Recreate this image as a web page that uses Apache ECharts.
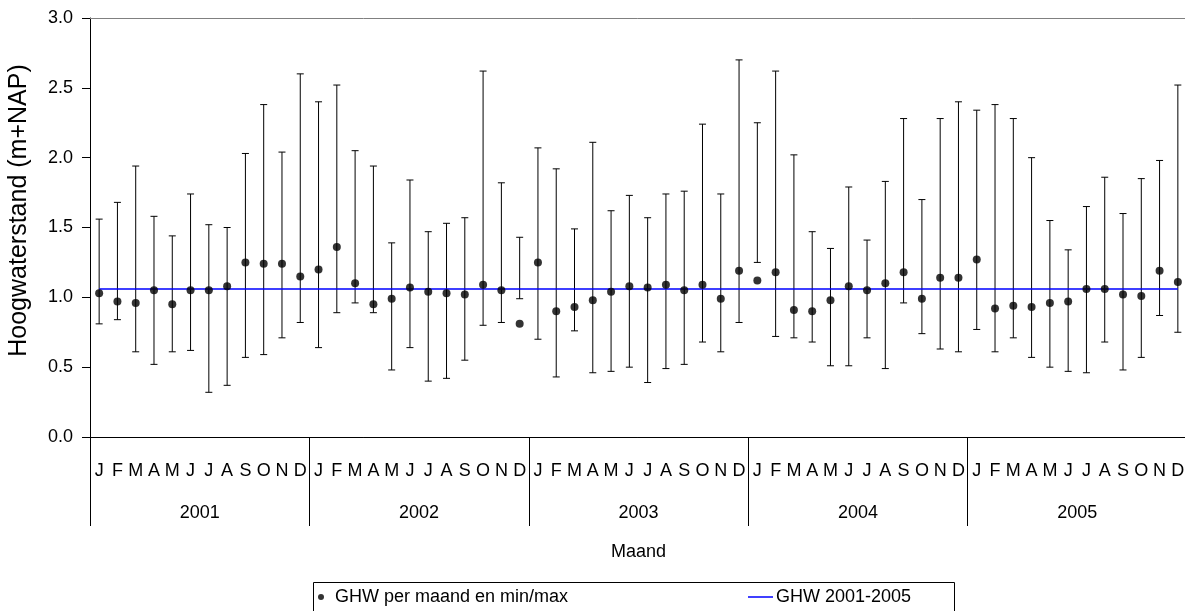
<!DOCTYPE html>
<html>
<head>
<meta charset="utf-8">
<script src="https://cdn.jsdelivr.net/npm/echarts@6/dist/echarts.min.js"></script>
<style>
    html, body { margin: 0; padding: 0; background: #fff; }
    #chart { width: 1185px; height: 611px; }
</style>
</head>
<body>
<div id="chart"></div>
<script>
// maandletters en jaren op de x-as
const months = ["J", "F", "M", "A", "M", "J", "J", "A", "S", "O", "N", "D"]
const years = ["2001", "2002", "2003", "2004", "2005"]

// gemiddeld hoogwater per maand (m+NAP)
const ghwMonth = [
    1.03, 0.97, 0.96, 1.05, 0.95, 1.05, 1.05, 1.08, 1.25, 1.24, 1.24, 1.15,
    1.20, 1.36, 1.10, 0.95, 0.99, 1.07, 1.04, 1.03, 1.02, 1.09, 1.05, 0.81,
    1.25, 0.90, 0.93, 0.98, 1.04, 1.08, 1.07, 1.09, 1.05, 1.09, 0.99, 1.19,
    1.12, 1.18, 0.91, 0.90, 0.98, 1.08, 1.05, 1.10, 1.18, 0.99, 1.14, 1.14,
    1.27, 0.92, 0.94, 0.93, 0.96, 0.97, 1.06, 1.06, 1.02, 1.01, 1.19, 1.11,
]

// hoogste hoogwater per maand
const ghwMax = [
    1.56, 1.68, 1.94, 1.58, 1.44, 1.74, 1.52, 1.50, 2.03, 2.38, 2.04, 2.60,
    2.40, 2.52, 2.05, 1.94, 1.39, 1.84, 1.47, 1.53, 1.57, 2.62, 1.82, 1.43,
    2.07, 1.92, 1.49, 2.11, 1.62, 1.73, 1.57, 1.74, 1.76, 2.24, 1.74, 2.70,
    2.25, 2.62, 2.02, 1.47, 1.35, 1.79, 1.41, 1.83, 2.28, 1.70, 2.28, 2.40,
    2.34, 2.38, 2.28, 2.00, 1.55, 1.34, 1.65, 1.86, 1.60, 1.85, 1.98, 2.52,
]

// laagste hoogwater per maand
const ghwMin = [
    0.81, 0.84, 0.61, 0.52, 0.61, 0.62, 0.32, 0.37, 0.57, 0.59, 0.71, 0.82,
    0.64, 0.89, 0.96, 0.89, 0.48, 0.64, 0.40, 0.42, 0.55, 0.80, 0.82, 0.99,
    0.70, 0.43, 0.76, 0.46, 0.47, 0.50, 0.39, 0.49, 0.52, 0.68, 0.61, 0.82,
    1.25, 0.72, 0.71, 0.68, 0.51, 0.51, 0.71, 0.49, 0.96, 0.74, 0.63, 0.61,
    0.77, 0.61, 0.71, 0.57, 0.50, 0.47, 0.46, 0.68, 0.48, 0.57, 0.87, 0.75,
]

// gemiddeld hoogwater over de hele periode
const ghwPeriod = 1.06

const yTicks = { min: 0, max: 3, interval: 0.5 }

const FONT = "'Liberation Sans', Arial, sans-serif"
const NAME_POINTS = "GHW per maand en min/max"
const NAME_PERIOD = "GHW 2001-2005"

const monthAxis = years.flatMap(() => months)
const rangeData = ghwMin.map((low, i) => [i, low, ghwMax[i]])

const chart = echarts.init(document.getElementById("chart"))

chart.setOption({
    animation: false,
    textStyle: { fontFamily: FONT, color: "#000" },
    grid: {
        left: 90,
        top: 18,
        width: 1097,
        height: 419,
        outerBoundsMode: "none",
        containLabel: false,
    },
    legend: [
        {
            left: 318,
            top: 588,
            padding: 0,
            itemWidth: 6,
            itemHeight: 6,
            data: [{ name: NAME_POINTS, icon: "circle" }],
            textStyle: { fontSize: 18, fontFamily: FONT, color: "#000", padding: [0, 0, 0, 6] },
        },
        {
            left: 748,
            top: 588,
            padding: 0,
            itemWidth: 25,
            itemHeight: 1.5,
            data: [{ name: NAME_PERIOD, icon: "rect" }],
            textStyle: { fontSize: 18, fontFamily: FONT, color: "#000", padding: [0, 0, 0, -2] },
        },
    ],
    graphic: [
        {
            type: "rect",
            silent: true,
            shape: { x: 313.5, y: 582.5, width: 641, height: 40 },
            style: { fill: "none", stroke: "#000", lineWidth: 1 },
        },
    ],
    xAxis: [
        {
            type: "category",
            data: monthAxis,
            position: "bottom",
            axisLine: { show: true, lineStyle: { color: "#000", width: 1 } },
            axisTick: { show: false },
            axisLabel: {
                interval: 0,
                margin: 25,
                fontSize: 18,
                fontFamily: FONT,
                color: "#000",
                hideOverlap: false,
            },
            splitLine: { show: false },
        },
        {
            type: "category",
            data: years,
            position: "bottom",
            name: "Maand",
            nameLocation: "middle",
            nameGap: 106,
            nameTextStyle: { fontSize: 18, fontFamily: FONT, color: "#000" },
            axisLine: { show: true, lineStyle: { color: "#000", width: 1 } },
            axisTick: { show: true, length: 89, interval: 0, lineStyle: { color: "#000" } },
            axisLabel: { interval: 0, margin: 67, fontSize: 18, fontFamily: FONT, color: "#000" },
            splitLine: { show: false },
        },
        {
            // bovenrand van het plotvlak
            type: "category",
            data: monthAxis,
            position: "top",
            axisLine: { show: true, lineStyle: { color: "#808080", width: 1 } },
            axisTick: { show: false },
            axisLabel: { show: false },
            splitLine: { show: false },
        },
    ],
    yAxis: {
        type: "value",
        min: yTicks.min,
        max: yTicks.max,
        interval: yTicks.interval,
        name: "Hoogwaterstand (m+NAP)",
        nameLocation: "middle",
        nameGap: 58,
        nameTextStyle: { fontSize: 25, fontFamily: FONT, color: "#000", padding: [0, 0, 0, 34] },
        axisLine: { show: true, lineStyle: { color: "#000", width: 1 } },
        axisTick: { show: true, length: 8, lineStyle: { color: "#000" } },
        axisLabel: {
            margin: 17,
            fontSize: 18,
            fontFamily: FONT,
            color: "#000",
            formatter: value => Number(value).toFixed(1),
        },
        splitLine: { show: false },
    },
    series: [
        {
            name: "min/max",
            type: "custom",
            xAxisIndex: 0,
            z: 2,
            data: rangeData,
            renderItem: (params, api) => {
                const idx = api.value(0)
                const top = api.coord([idx, api.value(2)])
                const bottom = api.coord([idx, api.value(1)])
                const half = 3.5
                const style = { stroke: "#000", lineWidth: 1 }
                return {
                    type: "group",
                    children: [
                        { type: "line", shape: { x1: top[0], y1: top[1], x2: bottom[0], y2: bottom[1] }, style },
                        { type: "line", shape: { x1: top[0] - half, y1: top[1], x2: top[0] + half, y2: top[1] }, style },
                        { type: "line", shape: { x1: bottom[0] - half, y1: bottom[1], x2: bottom[0] + half, y2: bottom[1] }, style },
                    ],
                }
            },
        },
        {
            name: NAME_PERIOD,
            type: "line",
            xAxisIndex: 0,
            z: 3,
            data: monthAxis.map(() => ghwPeriod),
            showSymbol: false,
            symbol: "none",
            lineStyle: { color: "#0000FF", width: 1.5 },
            itemStyle: { color: "#0000FF" },
        },
        {
            name: NAME_POINTS,
            type: "scatter",
            xAxisIndex: 0,
            z: 4,
            data: ghwMonth.map((v, i) => [i, v]),
            symbol: "circle",
            symbolSize: 8,
            itemStyle: { color: "#000" },
        },
    ],
})
</script>
</body>
</html>
